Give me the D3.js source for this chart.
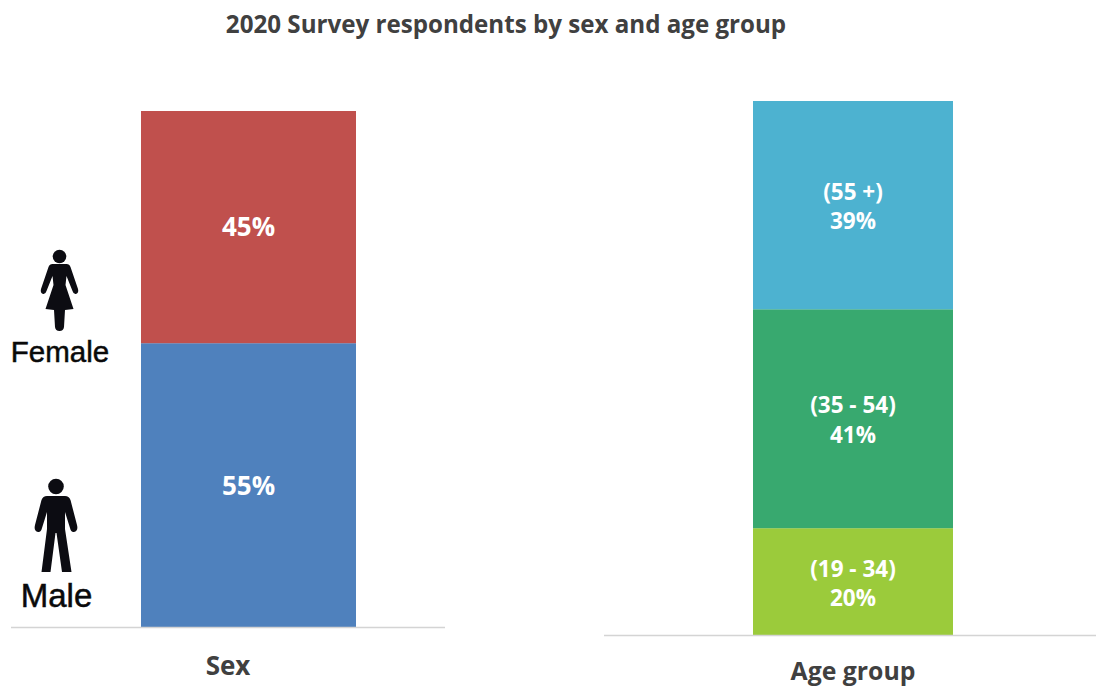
<!DOCTYPE html>
<html>
<head>
<meta charset="utf-8">
<script src="https://cdn.jsdelivr.net/npm/d3@7"></script>
<style>
html,body{margin:0;padding:0;background:#fff;}
svg{display:block;}
text{font-family:"Open Sans",sans-serif;font-weight:700;}
</style>
</head>
<body>
<svg id="chart" width="1096" height="687"></svg>
<script>
const chartTitle = "2020 Survey respondents by sex and age group";

const sexCategories = ["Male", "Female"];
const sexValues = [55, 45];
const sexColors = ["#4f81bd", "#c0504d"];

const ageCategories = ["(19 - 34)", "(35 - 54)", "(55 +)"];
const ageValues = [20, 41, 39];
const ageColors = ["#9bcb3b", "#38a96f", "#4db2d0"];

const svg = d3.select("#chart");

svg.append("text")
  .attr("x", 506).attr("y", 33)
  .attr("text-anchor", "middle")
  .attr("font-size", 24.15)
  .attr("fill", "#404040")
  .text(chartTitle);

// One stacked column with its baseline and axis caption.
function stackedColumn(cfg) {
  const g = svg.append("g");
  const y = d3.scaleLinear().domain([0, 100]).range([cfg.bottom, cfg.top]);
  const x = d3.scaleBand().domain([cfg.axisLabel]).range([cfg.left, cfg.right]);

  let running = 0;
  const rows = cfg.values.map((v, i) => {
    const row = {value: v, start: running, end: running + v, name: cfg.names[i], color: cfg.colors[i]};
    running += v;
    return row;
  });

  g.selectAll("rect").data(rows).join("rect")
    .attr("x", x(cfg.axisLabel))
    .attr("width", x.bandwidth())
    .attr("y", d => y(d.end))
    .attr("height", d => y(d.start) - y(d.end))
    .attr("fill", d => d.color);

  g.append("line")
    .attr("x1", cfg.axisFrom).attr("x2", cfg.axisTo)
    .attr("y1", cfg.bottom + 0.5).attr("y2", cfg.bottom + 0.5)
    .attr("stroke", "#d4d4d4").attr("stroke-width", 1.5);

  g.append("text")
    .attr("x", x(cfg.axisLabel) + x.bandwidth() / 2 + cfg.captionShift)
    .attr("y", cfg.bottom + cfg.captionGap)
    .attr("text-anchor", "middle")
    .attr("font-size", cfg.captionSize)
    .attr("fill", "#404040")
    .text(cfg.axisLabel);

  return {g, x, y, rows};
}

const sex = stackedColumn({
  top: 111, bottom: 627, left: 141, right: 356,
  axisFrom: 11, axisTo: 445, captionGap: 48, captionShift: -20.5, captionSize: 26,
  values: sexValues, names: sexCategories, colors: sexColors, axisLabel: "Sex"
});
sex.g.selectAll("text.pct").data(sex.rows).join("text")
  .attr("class", "pct")
  .attr("x", sex.x("Sex") + sex.x.bandwidth() / 2)
  .attr("y", (d, i) => i === 0 ? 495 : 236)
  .attr("text-anchor", "middle")
  .attr("font-size", 26)
  .attr("fill", "#fff")
  .text(d => d.value + "%");

const age = stackedColumn({
  top: 101, bottom: 635, left: 753, right: 953,
  axisFrom: 604, axisTo: 1096, captionGap: 45, captionShift: 0, captionSize: 24.8,
  values: ageValues, names: ageCategories, colors: ageColors, axisLabel: "Age group"
});
const ageNameY = [577, 413, 200];
const agePctY = [606, 443, 229];
const ageLabels = age.g.selectAll("g.lab").data(age.rows).join("g").attr("class", "lab");
ageLabels.append("text")
  .attr("x", age.x("Age group") + age.x.bandwidth() / 2)
  .attr("y", (d, i) => ageNameY[i])
  .attr("text-anchor", "middle").attr("font-size", 22.5).attr("fill", "#fff")
  .text(d => d.name);
ageLabels.append("text")
  .attr("x", age.x("Age group") + age.x.bandwidth() / 2)
  .attr("y", (d, i) => agePctY[i])
  .attr("text-anchor", "middle").attr("font-size", 22.5).attr("fill", "#fff")
  .text(d => d.value + "%");

// Restroom-style figures beside the sex column.
const iconInk = "#0c0c12";

function maleIcon(cx, top) {
  const p = svg.append("g").attr("transform", `translate(${cx},${top})`).attr("fill", iconInk);
  p.append("circle").attr("cx", 0).attr("cy", 7.5).attr("r", 7.8);
  p.append("path").attr("d",
    "M-9,17 L9,17 Q13,17 14.5,21 L21,46 Q22.5,52 18,53 Q15,53.5 14,49 L9,33 L9,50 L15.5,93 L6,93 L0.5,54 L-0.5,54 L-5.5,93 L-14.5,93 L-9,50 L-9,33 L-14,49 Q-15,53.5 -18,53 Q-22.5,52 -21,46 L-14.5,21 Q-13,17 -9,17 Z");
}

function femaleIcon(cx, top) {
  const p = svg.append("g").attr("transform", `translate(${cx},${top})`).attr("fill", iconInk);
  p.append("ellipse").attr("cx", 0).attr("cy", 6.5).attr("rx", 6.8).attr("ry", 6.8);
  p.append("path").attr("d",
    "M-7,14 L7,14 Q10,14 11,17 L18.5,39 Q19.5,43 16.5,44 Q14,44.5 13,41 L7,26 L6,35 L14,59 L5.5,60 L4.5,77 Q4,81 0,81 Q-4,81 -4.5,77 L-5.5,60 L-14,59 L-6,35 L-7,26 L-13,41 Q-14,44.5 -16.5,44 Q-19.5,43 -18.5,39 L-11,17 Q-10,14 -7,14 Z");
}

femaleIcon(59.5, 250);
maleIcon(56, 479);

svg.append("text").attr("x", 60).attr("y", 361.5)
  .attr("text-anchor", "middle")
  .style("font-family", "'Liberation Sans',Arial,sans-serif").style("font-weight", 400)
  .attr("font-size", 29.5).attr("fill", "#0a0a0a").attr("stroke", "#0a0a0a").attr("stroke-width", 0.5)
  .text(sexCategories[1]);
svg.append("text").attr("x", 56.5).attr("y", 607)
  .attr("text-anchor", "middle")
  .style("font-family", "'Liberation Sans',Arial,sans-serif").style("font-weight", 400)
  .attr("font-size", 33).attr("fill", "#0a0a0a").attr("stroke", "#0a0a0a").attr("stroke-width", 0.5)
  .text(sexCategories[0]);
</script>
</body>
</html>
